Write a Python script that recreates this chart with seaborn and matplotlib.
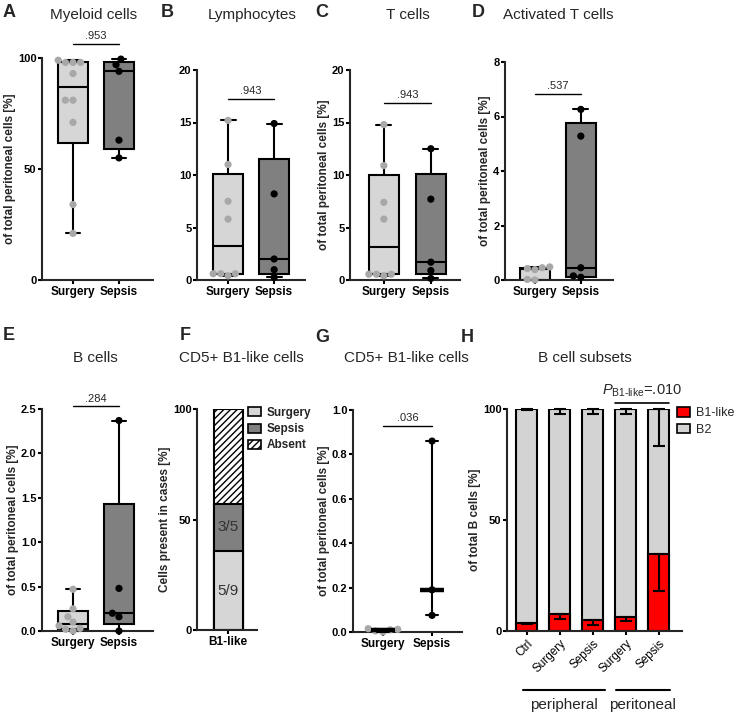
import numpy as np
import pandas as pd
import matplotlib
matplotlib.use("Agg")
import matplotlib as mpl
import matplotlib.pyplot as plt
import matplotlib.transforms as mtrans
from matplotlib.patches import Patch
import seaborn as sns

# ---------------- data ----------------
groups = ["Surgery", "Sepsis"]

myeloid_surgery = [21, 34, 71, 81, 81, 93, 98, 98, 98, 99]
myeloid_sepsis = [55, 63, 94, 97, 99.5]
lymph_surgery = [0.4, 0.6, 0.6, 0.6, 5.8, 7.5, 11.0, 15.2]
lymph_sepsis = [0.25, 0.98, 2.0, 8.2, 14.9]
tcell_surgery = [0.4, 0.55, 0.55, 0.55, 5.8, 7.4, 10.9, 14.8]
tcell_sepsis = [0.15, 0.9, 1.7, 7.7, 12.5]
act_surgery = [0.0, 0.02, 0.38, 0.42, 0.45, 0.48]
act_sepsis = [0.1, 0.15, 0.45, 5.28, 6.26]
bcell_surgery = [0.0, 0.02, 0.03, 0.06, 0.10, 0.16, 0.25, 0.47]
bcell_sepsis = [0.0, 0.16, 0.20, 0.48, 2.37]
b1_surgery = [0.0, 0.005, 0.01, 0.012, 0.015]
b1_sepsis = [0.075, 0.19, 0.86]

p_myeloid, p_lymph, p_tcell, p_act, p_bcell, p_b1 = ".953", ".943", ".943", ".537", ".284", ".036"

presence_labels = ["Surgery", "Sepsis", "Absent"]
presence_counts = [5, 3, 6]
presence_fractions = ["5/9", "3/5"]

h_keys = ["Ctrl", "pb_Surgery", "pb_Sepsis", "pt_Surgery", "pt_Sepsis"]
h_ticklabels = ["Ctrl", "Surgery", "Sepsis", "Surgery", "Sepsis"]
b1_mean = [3.5, 7.6, 4.9, 6.4, 34.5]
b1_sem = [0.3, 2.3, 2.1, 2.1, 16.6]
b2_mean = [96.5, 92.4, 95.1, 93.6, 65.5]
b2_sem = [0.3, 2.3, 2.1, 2.1, 16.6]
h_groups = ["peripheral", "peritoneal"]
p_h = ".010"

# ---------------- style ----------------
sns.set_theme(style="ticks")
plt.rcParams["font.family"] = ["Liberation Sans", "DejaVu Sans"]
plt.rcParams["mathtext.fontset"] = "custom"
plt.rcParams["mathtext.rm"] = "Liberation Sans"
plt.rcParams["mathtext.it"] = "Liberation Sans:italic"
plt.rcParams["mathtext.bf"] = "Liberation Sans:bold"
plt.rcParams["hatch.linewidth"] = 1.0

# GraphPad Prism style quartiles
_orig_bxs = mpl.cbook.boxplot_stats
def _prism_stats(X, whis=1.5, bootstrap=None, labels=None, autorange=False):
    stats = _orig_bxs(X, whis=whis, bootstrap=bootstrap, labels=labels, autorange=autorange)
    cols = mpl.cbook._reshape_2D(X, "X")
    for s, x in zip(stats, cols):
        q1, q3 = np.percentile(np.asarray(x, float), [25, 75], method="weibull")
        s["q1"], s["q3"], s["iqr"] = q1, q3, q3 - q1
    return stats
mpl.cbook.boxplot_stats = _prism_stats

LIGHT = "#d6d6d6"
DARK = "#808080"
DOT_LIGHT = "#a8a8a8"
RED = "#ff0000"

W, H = 739, 715
fig = plt.figure(figsize=(W / 100, H / 100), dpi=100)

def fx(x):
    return x / W

def fy(y):
    return 1 - y / H

def add_ax(left, top, right, bottom):
    return fig.add_axes([left / W, 1 - bottom / H, (right - left) / W, (bottom - top) / H])

def style(ax, yticks, fmt="{:g}", xbold=True):
    sns.despine(ax=ax)
    for s in ("left", "bottom"):
        ax.spines[s].set_linewidth(1.5)
    ax.tick_params(direction="out", length=3, width=1.5, pad=1, colors="black")
    ax.tick_params(axis="y", labelsize=8)
    ax.tick_params(axis="x", labelsize=8.5, pad=1.5)
    ax.set_yticks(yticks)
    ax.set_yticklabels([fmt.format(t) for t in yticks])
    for lab in ax.get_yticklabels():
        lab.set_fontweight("bold")
    if xbold:
        for lab in ax.get_xticklabels():
            lab.set_fontweight("bold")
    ax.set_xlabel("")
    ax.set_facecolor("none")

def set_ylab(ax, text):
    ax.set_ylabel(text, fontsize=8.5, fontweight="bold", labelpad=1.5)

def bracket(ax, x0, x1, y, text, fs=8):
    ax.plot([x0, x1], [y, y], color="black", lw=1, clip_on=False)
    ax.annotate(text, xy=((x0 + x1) / 2, y), xytext=(0, 2), textcoords="offset points",
                ha="center", va="bottom", fontsize=fs, annotation_clip=False)

def noclip(ax):
    for c in ax.collections:
        c.set_clip_on(False)
    for l in ax.lines:
        l.set_clip_on(False)

def box_panel(ax, surg, seps, ylim, yticks, fmt, xlim, p, p_y, ylabel):
    df = pd.DataFrame({"group": ["Surgery"] * len(surg) + ["Sepsis"] * len(seps),
                       "value": list(surg) + list(seps)})
    sns.boxplot(data=df, x="group", y="value", hue="group", order=groups, hue_order=groups,
                palette=[LIGHT, DARK], saturation=1, whis=(0, 100), width=0.65,
                linecolor="black", linewidth=1.5, showfliers=False, legend=False, ax=ax)
    sns.swarmplot(data=df, x="group", y="value", hue="group", order=groups, hue_order=groups,
                  palette=[DOT_LIGHT, "black"], size=5.2, linewidth=0, legend=False, ax=ax, zorder=4)
    ax.set_ylim(*ylim)
    ax.set_xlim(*xlim)
    style(ax, yticks, fmt)
    set_ylab(ax, ylabel)
    noclip(ax)
    bracket(ax, 0, 1, p_y, p)

ylab = "of total peritoneal cells [%]"

# ---------- A ----------
axA = add_ax(42, 58, 153, 280)
box_panel(axA, myeloid_surgery, myeloid_sepsis, (0, 100), [0, 50, 100], "{:g}",
          (-0.674, 1.74), p_myeloid, 106.3, ylab)
# ---------- B ----------
axB = add_ax(197, 70, 305, 280)
box_panel(axB, lymph_surgery, lymph_sepsis, (0, 20), [0, 5, 10, 15, 20], "{:g}",
          (-0.674, 1.67), p_lymph, 17.24, "")
# ---------- C ----------
axC = add_ax(350, 70, 460, 280)
box_panel(axC, tcell_surgery, tcell_sepsis, (0, 20), [0, 5, 10, 15, 20], "{:g}",
          (-0.72, 1.62), p_tcell, 16.86, ylab)
# ---------- D ----------
axD = add_ax(505, 62, 613, 280)
box_panel(axD, act_surgery, act_sepsis, (0, 8), [0, 2, 4, 6, 8], "{:g}",
          (-0.65, 1.70), p_act, 6.83, ylab)
# ---------- E ----------
axE = add_ax(42, 409, 153, 631)
box_panel(axE, bcell_surgery, bcell_sepsis, (0, 2.5), [0, 0.5, 1.0, 1.5, 2.0, 2.5], "{:.1f}",
          (-0.674, 1.74), p_bcell, 2.53, ylab)

# ---------- F ----------
axF = add_ax(197, 409, 257, 630)
pct = np.array(presence_counts) / np.sum(presence_counts) * 100
tops = np.cumsum(pct)
fills = [LIGHT, DARK, "white"]
hatches = [None, None, "/////"]
for i in [2, 1, 0]:
    sns.barplot(x=["B1-like"], y=[tops[i]], color=fills[i], saturation=1, edgecolor="black",
                linewidth=1.5, width=0.8, hatch=hatches[i], errorbar=None, ax=axF)
for i, t in enumerate(presence_fractions):
    axF.text(0, tops[i] - pct[i] / 2, t, ha="center", va="center", fontsize=11, color="#333333")
axF.set_ylim(0, 100)
axF.set_xlim(-0.86, 0.8)
style(axF, [0, 50, 100])
set_ylab(axF, "Cells present in cases [%]")
handlesF = [Patch(facecolor=fills[i], edgecolor="black", hatch=hatches[i], linewidth=1.2)
            for i in range(3)]
axF.legend(handlesF, presence_labels, loc="upper left", bbox_to_anchor=(fx(248), fy(407)),
           bbox_transform=fig.transFigure, frameon=False, handlelength=1.1, handleheight=0.8,
           handletextpad=0.5, labelspacing=0.35, borderaxespad=0, borderpad=0,
           prop={"weight": "bold", "size": 8.5})

# ---------- G ----------
axG = add_ax(353, 410, 462, 632)
dfg = pd.DataFrame({"group": ["Surgery"] * len(b1_surgery) + ["Sepsis"] * len(b1_sepsis),
                    "value": b1_surgery + b1_sepsis})
sns.swarmplot(data=dfg, x="group", y="value", hue="group", order=groups, hue_order=groups,
              palette=[DOT_LIGHT, "black"], size=5.2, linewidth=0, legend=False, ax=axG, zorder=3)
sns.pointplot(data=dfg, x="group", y="value", order=groups, estimator=np.median,
              errorbar=("pi", 100), color="black", linestyle="none", marker="_",
              markersize=17, markeredgewidth=3.2, capsize=0.25, err_kws={"linewidth": 1.5},
              ax=axG, zorder=4)
axG.set_ylim(0, 1.0)
axG.set_xlim(-0.61, 1.61)
style(axG, [0, 0.2, 0.4, 0.6, 0.8, 1.0], "{:.1f}")
set_ylab(axG, ylab)
noclip(axG)
bracket(axG, 0, 1, 0.928, p_b1)

# ---------- H ----------
axH = add_ax(507, 409, 682, 631)
dfh = pd.DataFrame({"key": h_keys, "b1": b1_mean, "total": np.add(b1_mean, b2_mean)})
sns.barplot(data=dfh, x="key", y="total", order=h_keys, color="#d3d3d3", saturation=1,
            edgecolor="black", linewidth=1.5, width=0.64, errorbar=None, ax=axH)
sns.barplot(data=dfh, x="key", y="b1", order=h_keys, color=RED, saturation=1,
            edgecolor="black", linewidth=1.5, width=0.64, errorbar=None, ax=axH)
xpos = np.arange(len(h_keys))
axH.errorbar(xpos, dfh["b1"], yerr=[b1_sem, np.zeros(len(b1_sem))], fmt="none", ecolor="black",
             elinewidth=1.5, capsize=4, capthick=1.5, zorder=5)
axH.errorbar(xpos, dfh["total"], yerr=[b2_sem, np.zeros(len(b2_sem))], fmt="none", ecolor="black",
             elinewidth=1.5, capsize=4, capthick=1.5, zorder=5)
axH.set_ylim(0, 100)
axH.set_xlim(-0.6, 4.7)
style(axH, [0, 50, 100], xbold=False)
axH.set_xticks(xpos)
axH.set_xticklabels(h_ticklabels, rotation=45, ha="right", rotation_mode="anchor", fontsize=8.5)
set_ylab(axH, "of total B cells [%]")
for l in axH.lines:
    l.set_clip_on(False)
for c in axH.collections:
    c.set_clip_on(False)
bl = mtrans.blended_transform_factory(axH.transData, axH.transAxes)
for (x0, x1), name in zip([(-0.12, 2.36), (2.7, 4.33)], h_groups):
    axH.plot([x0, x1], [-0.266, -0.266], color="black", lw=1.5, transform=bl, clip_on=False)
    axH.text((x0 + x1) / 2, -0.335, name, ha="center", va="center", fontsize=11, transform=bl)
axH.plot([3 - 0.32, 4 + 0.32], [102.7, 102.7], color="black", lw=1.2, clip_on=False)
axH.annotate(r"$P_\mathrm{B1\text{-}like}$=" + p_h, xy=(3.5, 102.7), xytext=(0, 3),
             textcoords="offset points", ha="center", va="bottom", fontsize=10.5,
             annotation_clip=False)
handlesH = [Patch(facecolor=RED, edgecolor="black", linewidth=1.2),
            Patch(facecolor="#d3d3d3", edgecolor="black", linewidth=1.2)]
axH.legend(handlesH, ["B1-like", "B2"], loc="upper left", bbox_to_anchor=(fx(677), fy(407)),
           bbox_transform=fig.transFigure, frameon=False, handlelength=1.0, handleheight=0.8,
           handletextpad=0.5, labelspacing=0.35, borderaxespad=0, borderpad=0, fontsize=9)

# ---------- titles & letters ----------
titles = [("Myeloid cells", 94, 15), ("Lymphocytes", 252, 15), ("T cells", 408, 15),
          ("Activated T cells", 558, 15), ("B cells", 95, 358), ("CD5+ B1-like cells", 241, 358),
          ("CD5+ B1-like cells", 406, 358), ("B cell subsets", 585, 358)]
for t, x, y in titles:
    fig.text(fx(x), fy(y), t, ha="center", va="center", fontsize=11)
letters = [("A", 9, 12.5), ("B", 167, 12.5), ("C", 322, 12.5), ("D", 478, 12.5),
           ("E", 9, 336), ("F", 185, 336), ("G", 322, 337), ("H", 467, 337)]
for t, x, y in letters:
    fig.text(fx(x), fy(y), t, ha="center", va="center", fontsize=13, fontweight="bold")

fig.savefig("out.png", dpi=100)
